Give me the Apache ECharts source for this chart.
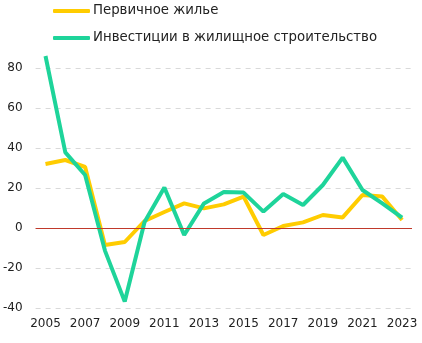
<!DOCTYPE html>
<html><head><meta charset="utf-8">
<script src="https://cdn.jsdelivr.net/npm/echarts@6/dist/echarts.min.js"></script>
<style>html,body{margin:0;padding:0;background:#fff}#c{width:422px;height:343px}</style>
</head><body><div id="c"></div>
<script>
var years = ['2005','2006','2007','2008','2009','2010','2011','2012','2013','2014','2015','2016','2017','2018','2019','2020','2021','2022','2023'];
var primaryHousing = [32, 34, 30.5, -8.5, -7, 3.5, 8, 12.3, 9.8, 11.8, 15.7, -3.5, 1, 2.8, 6.5, 5.3, 16.5, 15.7, 4];
var housingInvest = [86, 37.8, 26.5, -11.3, -36.8, 3, 20.3, -3.5, 12.3, 18, 17.7, 8.2, 17, 11.5, 21.5, 35.2, 19, 12.3, 5.2];
var seriesNames = ['Первичное жилье', 'Инвестиции в жилищное строительство'];

var chart = echarts.init(document.getElementById('c'), null, {renderer:'canvas'});
var font = 'DejaVu Sans';
chart.setOption({
  animation: false,
  textStyle: {fontFamily: font},
  legend: {
    orient: 'vertical', left: 53, top: 3, padding: 0,
    itemWidth: 37, itemHeight: 4, itemGap: 11, icon: 'roundRect',
    textStyle: {fontFamily: font, fontSize: 13.3, color: '#222', padding: [0,0,0,-2], lineHeight: 16},
    data: seriesNames
  },
  grid: {left: 34, right: 10, top: 68, bottom: 35},
  xAxis: {
    type: 'category', data: years, boundaryGap: true,
    axisLine: {show: false}, axisTick: {show: false},
    axisLabel: {interval: 1, color: '#222', fontSize: 12, fontFamily: font, margin: 10}
  },
  yAxis: {
    type: 'value', min: -40, max: 80, interval: 20,
    axisLine: {show: false}, axisTick: {show: false},
    axisLabel: {color: '#222', fontSize: 12, fontFamily: font, margin: 13},
    splitLine: {lineStyle: {color: '#d9d9d9', type: [5, 5], width: 1}}
  },
  series: [
    {name: seriesNames[0], type: 'line', data: primaryHousing, symbol: 'none', clip: false,
     lineStyle: {color: '#FFCC00', width: 4}, itemStyle: {color: '#FFCC00'},
     markLine: {silent: true, symbol: 'none', label: {show: false},
       lineStyle: {color: '#C0392B', width: 1, type: 'solid'}, data: [{yAxis: 0}]}},
    {name: seriesNames[1], type: 'line', data: housingInvest, symbol: 'none', clip: false,
     lineStyle: {color: '#1ED49A', width: 4}, itemStyle: {color: '#1ED49A'}}
  ]
});
</script></body></html>
